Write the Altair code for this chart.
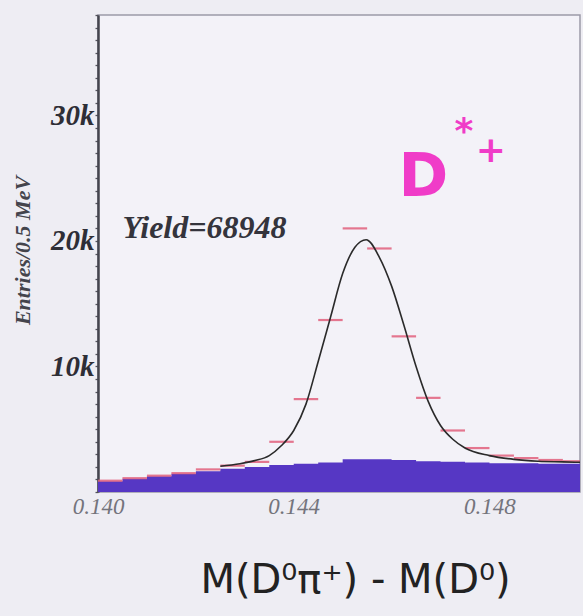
import altair as alt
import pandas as pd

# D*+ -> D0 pi+ mass-difference spectrum, 0.5 MeV bins (values in thousands of entries)
bin_centers = [0.14025, 0.14075, 0.14125, 0.14175, 0.14225, 0.14275, 0.14325,
               0.14375, 0.14425, 0.14475, 0.14525, 0.14575, 0.14625, 0.14675,
               0.14725, 0.14775, 0.14825, 0.14875, 0.14925, 0.14975]
entries_k = [0.9, 1.1, 1.3, 1.5, 1.8, 2.1, 2.4,
             4.0, 7.4, 13.7, 21.0, 19.4, 12.4, 7.5,
             4.9, 3.5, 2.9, 2.7, 2.55, 2.45]
background_k = [0.85, 1.05, 1.25, 1.45, 1.65, 1.85, 2.0,
                2.15, 2.25, 2.35, 2.6, 2.6, 2.55, 2.45,
                2.4, 2.35, 2.3, 2.3, 2.25, 2.25]

# fitted signal + background curve
fit_mass = [0.14250, 0.14290, 0.14320, 0.14350, 0.14375, 0.14400, 0.14425,
            0.14450, 0.14475, 0.14500, 0.14525, 0.14548, 0.14575, 0.14600,
            0.14625, 0.14650, 0.14675, 0.14700, 0.14725, 0.14750, 0.14800,
            0.14850, 0.14900, 0.14950, 0.15000]
fit_k = [2.05, 2.25, 2.5, 2.9, 3.7, 4.9, 7.0,
         10.4, 13.9, 17.4, 19.5, 20.1, 18.7, 16.4,
         13.3, 10.0, 7.2, 5.3, 4.2, 3.5, 2.9,
         2.6, 2.45, 2.4, 2.35]

x_ticks = [0.140, 0.144, 0.148]

BIN_HALF = 0.00025
X_DOMAIN = [0.140, 0.14985]
Y_DOMAIN = [0, 38000]

hist = pd.DataFrame({
    "lo": [c - BIN_HALF for c in bin_centers],
    "hi": [c + BIN_HALF for c in bin_centers],
    "entries": [v * 1000 for v in entries_k],
})
bkg = pd.DataFrame({
    "edge": [c - BIN_HALF for c in bin_centers] + [bin_centers[-1] + BIN_HALF],
    "bkg": [v * 1000 for v in background_k] + [background_k[-1] * 1000],
})
fit = pd.DataFrame({"m": fit_mass, "f": [v * 1000 for v in fit_k]})

xs = alt.Scale(domain=X_DOMAIN, nice=False, zero=False)
ys = alt.Scale(domain=Y_DOMAIN, nice=False)

x_axis = alt.Axis(
    values=x_ticks, format=".3f", title="M(D⁰π⁺) - M(D⁰)",
    domain=False, ticks=False, grid=False, labelFlush=False,
    labelFont="Liberation Serif", labelFontStyle="italic", labelFontSize=23,
    labelColor="#74747c", labelPadding=3,
    titleFont="DejaVu Sans", titleFontSize=40, titleFontWeight="normal",
    titleColor="#222222", titlePadding=42, titleX=257, titleAlign="center",
)
# minor ticks every 1k, labels on the 10k marks
y_minor = [k * 1000 for k in range(0, 39)]
y_axis = alt.Axis(
    values=y_minor, tickCount=100, grid=False, labelOverlap=False,
    labelExpr="datum.value % 10000 == 0 && datum.value > 0 ? (datum.value / 1000) + 'k' : ''",
    labelFont="Liberation Serif", labelFontStyle="italic", labelFontWeight="bold",
    labelFontSize=29, labelColor="#2e2e36", labelPadding=1,
    tickSize=3, tickColor="#55555e", tickWidth=1.3,
    domainColor="#45454e", domainWidth=2.5,
    title="Entries/0.5 MeV", titleFont="Liberation Serif", titleFontStyle="italic",
    titleFontWeight="bold", titleFontSize=22, titleColor="#44444c",
    titleX=-76, titleY=235, titleAngle=270, titleBaseline="middle",
)

background_area = alt.Chart(bkg).mark_area(
    interpolate="step-after", color="#5637c4", opacity=1, clip=True
).encode(
    x=alt.X("edge:Q", scale=xs, axis=x_axis),
    y=alt.Y("bkg:Q", scale=ys, axis=y_axis),
)

points = alt.Chart(hist).mark_rule(
    color="#e0607c", strokeWidth=2.2, opacity=0.85, clip=True
).encode(
    x=alt.X("lo:Q", scale=xs),
    x2="hi:Q",
    y=alt.Y("entries:Q", scale=ys),
)

fit_line = alt.Chart(fit).mark_line(
    color="#2a2a2a", strokeWidth=1.6, interpolate="monotone", clip=True
).encode(
    x=alt.X("m:Q", scale=xs),
    y=alt.Y("f:Q", scale=ys),
)

labels = pd.DataFrame({"m": [0.14050], "v": [21000], "t": ["Yield=68948"]})
yield_text = alt.Chart(labels).mark_text(
    align="left", baseline="middle", font="Liberation Serif", fontStyle="italic",
    fontWeight="bold", fontSize=32, color="#34343c",
).encode(x=alt.X("m:Q", scale=xs), y=alt.Y("v:Q", scale=ys), text="t:N")

d_label = pd.DataFrame({"m": [0.14665], "v": [25000], "t": ["D"]})
d_text = alt.Chart(d_label).mark_text(
    align="center", baseline="middle", font="DejaVu Sans", fontWeight="bold",
    fontSize=60, color="#f03cc8",
).encode(x=alt.X("m:Q", scale=xs), y=alt.Y("v:Q", scale=ys), text="t:N")

sup_label = pd.DataFrame({"m": [0.14748, 0.14803], "v": [28700, 27200], "t": ["*", "+"]})
sup_text = alt.Chart(sup_label).mark_text(
    align="center", baseline="middle", font="DejaVu Sans", fontWeight="bold",
    fontSize=36, color="#f03cc8",
).encode(x=alt.X("m:Q", scale=xs), y=alt.Y("v:Q", scale=ys), text="t:N")

chart = alt.layer(
    background_area, points, fit_line, yield_text, d_text, sup_text
).properties(
    width=482, height=477,
    padding={"left": 98, "top": 15, "right": 3, "bottom": 124},
    autosize=alt.AutoSizeParams(type="none"),
    background="#eeedf3",
).configure_view(
    fill="#f3f2f8", stroke="#9c9aa8", strokeWidth=1.5,
)

chart.save("out.html", embed_options={"renderer": "svg", "actions": False})
